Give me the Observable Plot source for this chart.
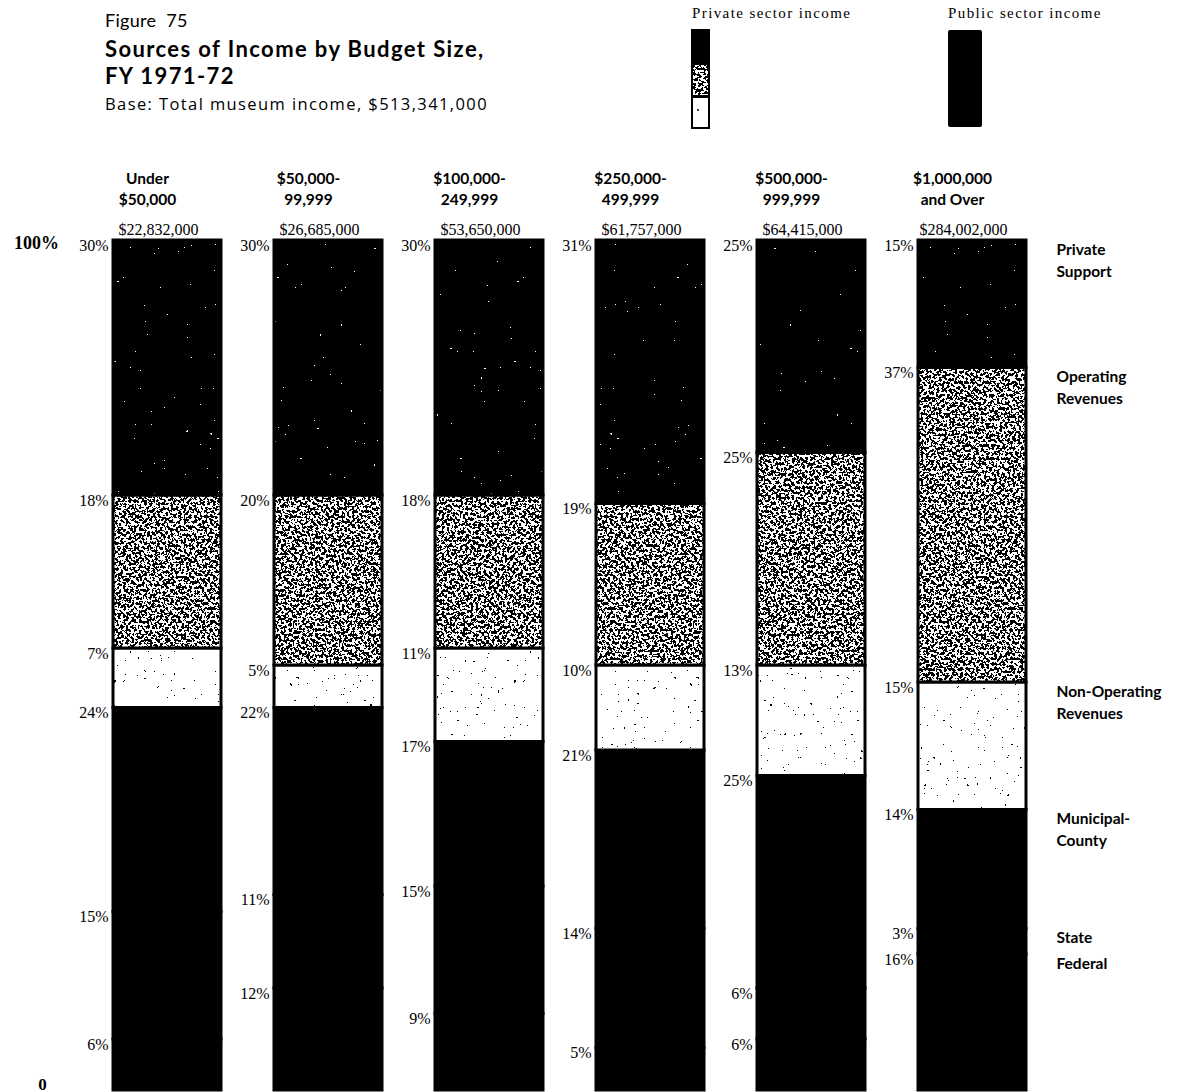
<!DOCTYPE html>
<html>
<head>
<meta charset="utf-8">
<script src="https://cdn.jsdelivr.net/npm/d3@7"></script>
<script src="https://cdn.jsdelivr.net/npm/@observablehq/plot@0.6"></script>
<style>
  html, body { margin: 0; padding: 0; background: #fff; }
  body { width: 1186px; height: 1092px; position: relative; overflow: hidden; font-family: Lato, "Open Sans", sans-serif; color: #000; }
  .abs { position: absolute; white-space: nowrap; }
  #chart { position: absolute; left: 0; top: 0; }
</style>
</head>
<body>
<svg width="0" height="0" style="position:absolute">
  <defs>
    <filter id="fOp" x="0" y="0" width="100%" height="100%" color-interpolation-filters="sRGB">
      <feTurbulence type="fractalNoise" baseFrequency="0.38" numOctaves="2" seed="7"/>
      <feColorMatrix type="matrix" values="1 0 0 0 0  1 0 0 0 0  1 0 0 0 0  0 0 0 0 1"/>
      <feComponentTransfer>
        <feFuncR type="discrete" tableValues="0 1"/>
        <feFuncG type="discrete" tableValues="0 1"/>
        <feFuncB type="discrete" tableValues="0 1"/>
      </feComponentTransfer>
    </filter>
    <filter id="fPriv" x="0" y="0" width="100%" height="100%" color-interpolation-filters="sRGB">
      <feTurbulence type="fractalNoise" baseFrequency="0.3" numOctaves="2" seed="11"/>
      <feColorMatrix type="matrix" values="1 0 0 0 0  1 0 0 0 0  1 0 0 0 0  0 0 0 0 1"/>
      <feComponentTransfer>
        <feFuncR type="discrete" tableValues="0 0 0 0 0 0 0 0 0 0 0 0 0 0 0 0 0 0 0 0 0 0 0 0 0 0 0 0 0 0 0 0 0 1 1 1 1 1 1 1"/>
        <feFuncG type="discrete" tableValues="0 0 0 0 0 0 0 0 0 0 0 0 0 0 0 0 0 0 0 0 0 0 0 0 0 0 0 0 0 0 0 0 0 1 1 1 1 1 1 1"/>
        <feFuncB type="discrete" tableValues="0 0 0 0 0 0 0 0 0 0 0 0 0 0 0 0 0 0 0 0 0 0 0 0 0 0 0 0 0 0 0 0 0 1 1 1 1 1 1 1"/>
      </feComponentTransfer>
    </filter>
    <filter id="fNon" x="0" y="0" width="100%" height="100%" color-interpolation-filters="sRGB">
      <feTurbulence type="fractalNoise" baseFrequency="0.3" numOctaves="2" seed="23"/>
      <feColorMatrix type="matrix" values="1 0 0 0 0  1 0 0 0 0  1 0 0 0 0  0 0 0 0 1"/>
      <feComponentTransfer>
        <feFuncR type="discrete" tableValues="0 0 0 0 0 0 0 0 0 1 1 1 1 1 1 1 1 1 1 1 1 1 1 1 1 1 1 1 1 1 1 1 1 1 1 1 1 1 1 1"/>
        <feFuncG type="discrete" tableValues="0 0 0 0 0 0 0 0 0 1 1 1 1 1 1 1 1 1 1 1 1 1 1 1 1 1 1 1 1 1 1 1 1 1 1 1 1 1 1 1"/>
        <feFuncB type="discrete" tableValues="0 0 0 0 0 0 0 0 0 1 1 1 1 1 1 1 1 1 1 1 1 1 1 1 1 1 1 1 1 1 1 1 1 1 1 1 1 1 1 1"/>
      </feComponentTransfer>
    </filter>
    <pattern id="pOp" patternUnits="userSpaceOnUse" width="400" height="400">
      <rect width="400" height="400" filter="url(#fOp)"/>
    </pattern>
    <pattern id="pPriv" patternUnits="userSpaceOnUse" width="400" height="400">
      <rect width="400" height="400" filter="url(#fPriv)"/>
    </pattern>
    <pattern id="pNon" patternUnits="userSpaceOnUse" width="400" height="400">
      <rect width="400" height="400" filter="url(#fNon)"/>
    </pattern>
  </defs>
</svg>

<div class="abs" style="left:105px; top:9px; font-size:18px; letter-spacing:0.3px;">Figure&nbsp; 75</div>
<div class="abs" style="left:105px; top:36px; font-family:Lato, 'Open Sans', sans-serif; font-size:22px; font-weight:bold; line-height:26px; letter-spacing:1.4px;">Sources of Income by Budget Size,</div>
<div class="abs" style="left:105px; top:63px; font-family:Lato, 'Open Sans', sans-serif; font-size:22px; font-weight:bold; line-height:26px; letter-spacing:1.4px;">FY 1971-72</div>
<div class="abs" style="left:105px; top:92px; font-family:'Open Sans', Lato, sans-serif; font-size:16.5px; letter-spacing:1.4px;">Base: Total museum income, $513,341,000</div>

<div class="abs" style="left:692px; top:5px; font-family:'Liberation Serif'; font-size:15px; letter-spacing:1.4px;">Private sector income</div>
<div class="abs" style="left:948px; top:5px; font-family:'Liberation Serif'; font-size:15px; letter-spacing:1.4px;">Public sector income</div>
<svg class="abs" style="left:688px; top:26px;" width="320" height="110">
  <rect x="4" y="4" width="17" height="33" fill="url(#pPriv)" stroke="#000" stroke-width="2"/>
  <rect x="4" y="38" width="17" height="32" fill="url(#pOp)" stroke="#000" stroke-width="2"/>
  <rect x="4" y="71" width="17" height="31" fill="#fff" stroke="#000" stroke-width="2"/>
  <circle cx="10" cy="84" r="1" fill="#000"/>
  <rect x="260" y="4" width="34" height="97" fill="#000" rx="2"/>
</svg>

<div id="chart"></div>

<script>
// ---- Data ----
const categories = ["Under\n$50,000", "$50,000-\n99,999", "$100,000-\n249,999", "$250,000-\n499,999", "$500,000-\n999,999", "$1,000,000\nand Over"];
const totals = ["$22,832,000", "$26,685,000", "$53,650,000", "$61,757,000", "$64,415,000", "$284,002,000"];
// series listed bottom to top
const series = ["Federal", "State", "Municipal-County", "Non-Operating Revenues", "Operating Revenues", "Private Support"];
const seriesLabels = ["Federal", "State", "Municipal-\nCounty", "Non-Operating\nRevenues", "Operating\nRevenues", "Private\nSupport"];
const privateSupport       = [30, 30, 30, 31, 25, 15];
const operatingRevenues    = [18, 20, 18, 19, 25, 37];
const nonOperatingRevenues = [ 7,  5, 11, 10, 13, 15];
const municipalCounty      = [24, 22, 17, 21, 25, 14];
const stateFunds           = [15, 11, 15, 14,  6,  3];
const federalFunds         = [ 6, 12,  9,  5,  6, 16];
const yTicks = [100, 0];
const yTickLabels = ["100%", "0"];

const valuesBySeries = {
  "Federal": federalFunds,
  "State": stateFunds,
  "Municipal-County": municipalCounty,
  "Non-Operating Revenues": nonOperatingRevenues,
  "Operating Revenues": operatingRevenues,
  "Private Support": privateSupport
};
const fills = {
  "Federal": "#000",
  "State": "#000",
  "Municipal-County": "#000",
  "Non-Operating Revenues": "url(#pNon)",
  "Operating Revenues": "url(#pOp)",
  "Private Support": "url(#pPriv)"
};

const rows = [];
series.forEach((s, si) => {
  categories.forEach((c, ci) => {
    rows.push({cat: c, series: s, value: valuesBySeries[s][ci], label: seriesLabels[si]});
  });
});
const lastCat = categories[categories.length - 1];
const lastRows = rows.filter(d => d.cat === lastCat);
const catRows = categories.map((c, i) => ({cat: c, total: totals[i]}));

const serif = "'Liberation Serif', 'DejaVu Serif', serif";
const sans = "Lato, 'Open Sans', sans-serif";

const chart = Plot.plot({
  width: 1186,
  height: 1092,
  marginTop: 240,
  marginBottom: 2,
  marginLeft: 86,
  marginRight: 134,
  x: {domain: categories, paddingInner: 0.33, paddingOuter: 0.165, axis: null},
  y: {domain: [0, 100], axis: null},
  color: {type: "identity"},
  marks: [
    Plot.barY(rows, Plot.stackY({
      x: "cat", y: "value", z: "series",
      fill: d => fills[d.series],
      stroke: "#000", strokeWidth: 3
    })),
    // percent labels at top of each segment
    Plot.text(rows, Plot.stackY2({
      x: "cat", y: "value", z: "series",
      text: d => d.value + "%",
      textAnchor: "end", lineAnchor: "middle",
      dx: -59, dy: 5,
      fontFamily: serif, fontSize: 16, fill: "#000"
    })),
    // series labels at right of last bar
    Plot.text(lastRows, Plot.stackY2({
      x: "cat", y: "value", z: "series",
      text: "label",
      textAnchor: "start", lineAnchor: "top",
      dx: 84, dy: -1, lineHeight: 1.4,
      fontFamily: sans, fontWeight: "bold", fontSize: 15.5, fill: "#000"
    })),
    // category headers
    Plot.text(catRows, {
      x: "cat", text: "cat", frameAnchor: "top",
      textAnchor: "middle", lineAnchor: "bottom",
      dx: -20, dy: -36, lineHeight: 1.3,
      fontFamily: sans, fontWeight: "bold", fontSize: 15.5, fill: "#000"
    }),
    // totals
    Plot.text(catRows, {
      x: "cat", text: "total", frameAnchor: "top",
      textAnchor: "middle", lineAnchor: "bottom",
      dx: -9, dy: -6,
      fontFamily: serif, fontSize: 16, letterSpacing: 0.3, fill: "#000"
    }),
    // y end labels
    Plot.text([yTicks[0]], {
      y: d => d, text: () => yTickLabels[0], frameAnchor: "left",
      textAnchor: "middle", lineAnchor: "middle",
      dx: -50, dy: 3,
      fontFamily: serif, fontWeight: "bold", fontSize: 18, fill: "#000"
    }),
    Plot.text([yTicks[1]], {
      y: d => d, text: () => yTickLabels[1], frameAnchor: "left",
      textAnchor: "middle", lineAnchor: "bottom",
      dx: -44, dy: -1,
      fontFamily: serif, fontWeight: "bold", fontSize: 17, fill: "#000"
    })
  ]
});
document.getElementById("chart").appendChild(chart);
</script>
</body>
</html>
